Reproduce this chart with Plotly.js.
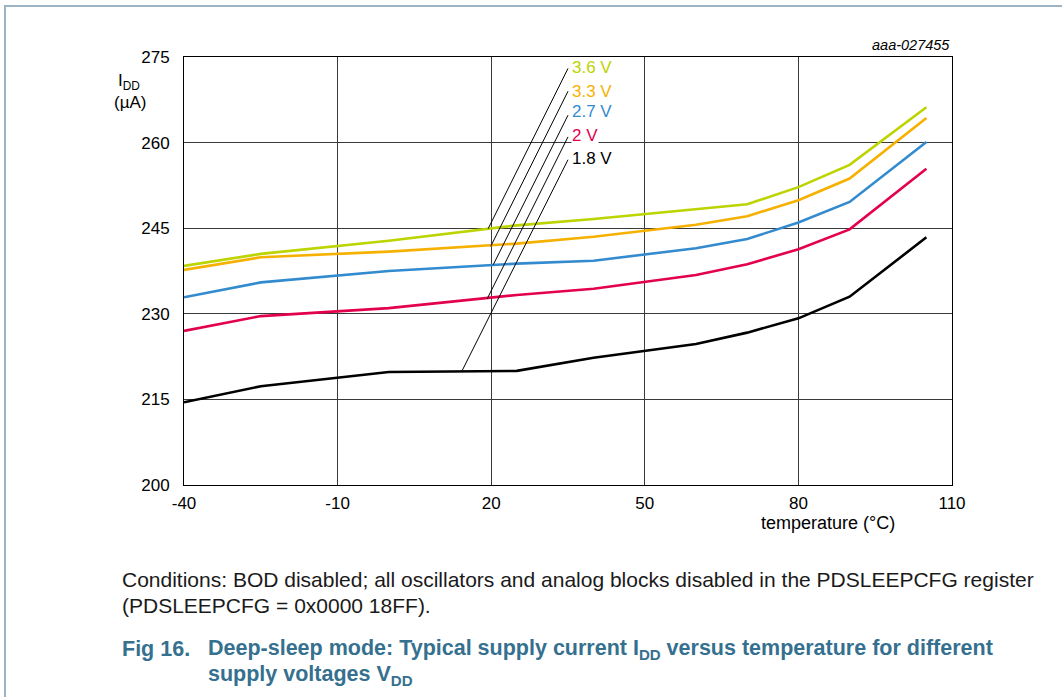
<!DOCTYPE html>
<html>
<head>
<meta charset="utf-8">
<script src="https://cdn.plot.ly/plotly-3.0.1.min.js"></script>
<style>
  html, body { margin:0; padding:0; background:#fff; overflow:hidden; }
  #chart { width:1062px; height:697px; }
  #frame { position:absolute; left:4px; top:5px; width:1200px; height:900px;
           border-left:2px solid #9db4c4; border-top:2px solid #9db4c4; pointer-events:none; }
</style>
</head>
<body>
<div id="chart"></div>
<div id="frame"></div>
<script>
// ---- data ----
const temps = [-40, -25, 0, 25, 40, 60, 70, 80, 90, 105];
const idd_1v8 = [214.5, 217.3, 219.8, 220.0, 222.3, 224.7, 226.7, 229.2, 233.0, 243.4];
const idd_2v0 = [227.0, 229.6, 231.0, 233.3, 234.4, 236.8, 238.7, 241.3, 244.8, 255.4];
const idd_2v7 = [232.9, 235.5, 237.5, 238.8, 239.3, 241.5, 243.1, 246.0, 249.6, 260.1];
const idd_3v3 = [237.7, 239.9, 240.9, 242.3, 243.5, 245.6, 247.1, 249.9, 253.7, 264.3];
const idd_3v6 = [238.4, 240.5, 242.8, 245.5, 246.6, 248.4, 249.2, 252.2, 256.1, 266.2];

const seriesNames = ['3.6 V', '3.3 V', '2.7 V', '2 V', '1.8 V'];
const seriesData  = [idd_3v6, idd_3v3, idd_2v7, idd_2v0, idd_1v8];
const seriesColors = ['#bcd400', '#f6b100', '#338bcf', '#e3004f', '#000000'];

// label text positions (temperature, µA)
const labelTemp = [35.6, 35.6, 35.6, 35.6, 35.6];
const labelVal  = [273.1, 269.0, 265.4, 261.3, 257.3];
// leader lines: tail near label, head on curve
const leaderTailTemp = [35.0, 35.0, 35.0, 35.0, 35.0];
const leaderTailVal  = [273.0, 269.0, 264.8, 261.0, 257.0];
const leaderHeadTemp = [19.4, 19.9, 20.4, 19.2, 14.3];
const leaderHeadVal  = [244.9, 241.8, 238.6, 232.6, 220.0];

const xTicks = [-40, -10, 20, 50, 80, 110];
const yTicks = [200, 215, 230, 245, 260, 275];

// ---- traces ----
const traces = seriesNames.map((n, i) => ({
  type: 'scatter', mode: 'lines', name: n,
  x: temps, y: seriesData[i],
  line: { color: seriesColors[i], width: 2.6 },
  hoverinfo: 'skip'
}));

const font = 'Liberation Sans, Arial, sans-serif';
const annotations = [];
const shapes = seriesNames.map((n, i) => ({
  type: 'line', xref: 'x', yref: 'y', layer: 'above',
  x0: leaderTailTemp[i], y0: leaderTailVal[i],
  x1: leaderHeadTemp[i], y1: leaderHeadVal[i],
  line: { color: '#000', width: 1 }
}));

seriesNames.forEach((n, i) => {
  annotations.push({
    xref: 'x', yref: 'y', x: labelTemp[i], y: labelVal[i],
    text: n, showarrow: false, xanchor: 'left', yanchor: 'middle',
    bgcolor: '#fff', borderpad: 0,
    font: { family: font, size: 17, color: seriesColors[i] }
  });
});

function px(X) { return (X - 184) / 768; }
function py(Y) { return (485 - Y) / 428; }

const textAnn = [
  { x: px(116), y: py(82), text: 'I<sub>DD</sub>', xanchor: 'left', size: 17 },
  { x: px(112), y: py(103), text: '(µA)', xanchor: 'left', size: 17 },
  { x: px(828), y: py(523), text: 'temperature (°C)', xanchor: 'center', size: 18 },
  { x: px(952), y: py(45), text: '<i>aaa-027455</i>', xanchor: 'right', size: 14.5 },
  { x: px(120), y: py(579), text: 'Conditions: BOD disabled; all oscillators and analog blocks disabled in the PDSLEEPCFG register', xanchor: 'left', size: 21, color: '#1a1a1a' },
  { x: px(120), y: py(605), text: '(PDSLEEPCFG = 0x0000 18FF).', xanchor: 'left', size: 21, color: '#1a1a1a' },
  { x: px(120), y: py(649), text: '<b>Fig 16.</b>', xanchor: 'left', size: 21.5, color: '#35708f' },
  { x: px(206), y: py(649), text: '<b>Deep-sleep mode: Typical supply current I<sub>DD</sub> versus temperature for different</b>', xanchor: 'left', size: 21.5, color: '#35708f' },
  { x: px(206), y: py(675), text: '<b>supply voltages V<sub>DD</sub></b>', xanchor: 'left', size: 21.5, color: '#35708f' }
];
textAnn.forEach(a => annotations.push({
  xref: 'paper', yref: 'paper', x: a.x, y: a.y, text: a.text, showarrow: false,
  xanchor: a.xanchor, yanchor: 'middle',
  font: { family: font, size: a.size, color: a.color || '#000' }
}));

const layout = {
  width: 1062, height: 697,
  margin: { l: 184, r: 110, t: 57, b: 212, pad: 0 },
  paper_bgcolor: '#fff', plot_bgcolor: '#fff',
  showlegend: false,
  font: { family: font, size: 17, color: '#000' },
  xaxis: {
    range: [-40, 110], tickvals: xTicks, ticktext: xTicks.map(String),
    showgrid: true, gridcolor: '#3a3a3a', gridwidth: 1,
    showline: true, linecolor: '#000', linewidth: 1, mirror: true,
    zeroline: false, ticks: '', ticklabelstandoff: 3,
    tickfont: { family: font, size: 17 }, fixedrange: true
  },
  yaxis: {
    range: [200, 275], tickvals: yTicks, ticktext: yTicks.map(String),
    showgrid: true, gridcolor: '#3a3a3a', gridwidth: 1,
    showline: true, linecolor: '#000', linewidth: 1, mirror: true,
    zeroline: false, ticks: '', ticklabelstandoff: 10,
    tickfont: { family: font, size: 17 }, fixedrange: true
  },
  shapes: shapes,
  annotations: annotations
};

Plotly.newPlot('chart', traces, layout, { displayModeBar: false, staticPlot: true });
</script>
</body>
</html>
